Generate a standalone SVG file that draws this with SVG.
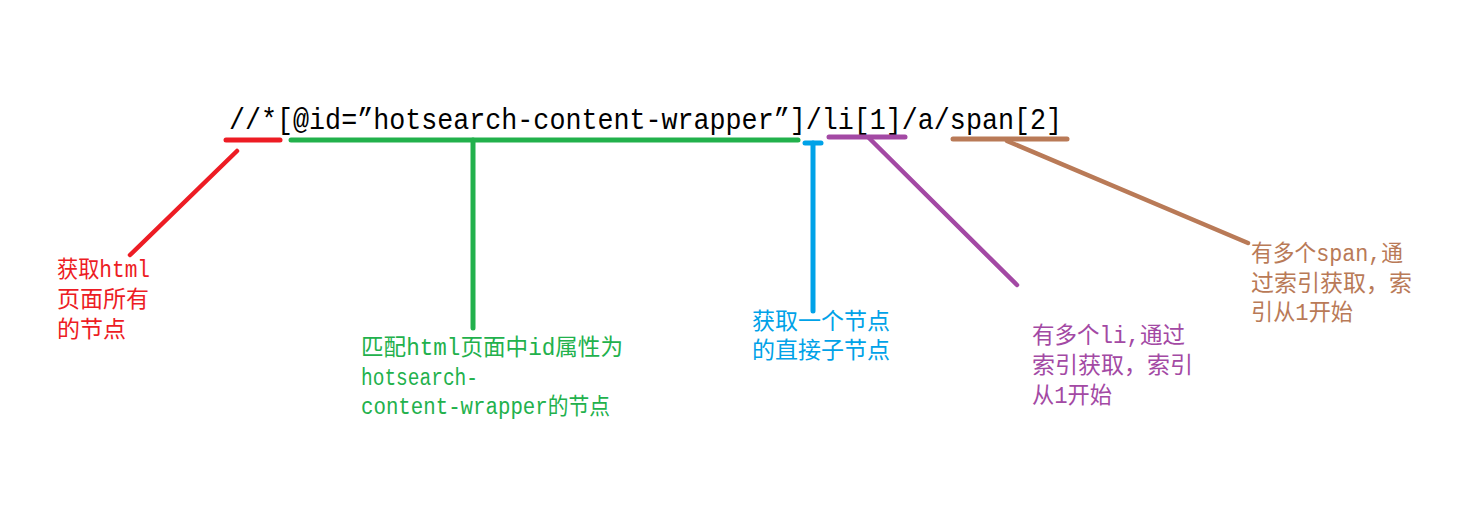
<svg xmlns="http://www.w3.org/2000/svg" width="1471" height="517" viewBox="0 0 1471 517">
<style>
.main{font-family:"Liberation Mono","Noto Sans CJK SC",monospace;font-size:29px;fill:#000}
.lbl{font-family:"Liberation Mono","Noto Sans CJK SC",monospace;font-size:23px}
.ln{fill:none;stroke-width:5;stroke-linecap:round}
.dg{stroke-width:4.5}
.red{fill:#ed1c24;stroke:#ed1c24}
.green{fill:#22b14c;stroke:#22b14c}
.blue{fill:#00a2e8;stroke:#00a2e8}
.purple{fill:#a349a4;stroke:#a349a4}
.brown{fill:#b97a57;stroke:#b97a57}
text{stroke:none}
</style>
<rect width="1471" height="517" fill="#fff"/>
<g id="xpath">
<text class="main" x="229" y="129" textLength="833" lengthAdjust="spacingAndGlyphs">//*[@id=”hotsearch-content-wrapper”]/li[1]/a/span[2]</text>
</g>
<g id="connectors">
<line class="ln red" x1="226" y1="140" x2="280" y2="140"/>
<line class="ln dg red" x1="237" y1="151" x2="130" y2="255"/>
<line class="ln green" x1="291" y1="140" x2="798" y2="140"/>
<line class="ln green" x1="473" y1="140" x2="473" y2="328"/>
<line class="ln blue" x1="805" y1="143" x2="821" y2="143" stroke-linecap="butt"/>
<line class="ln blue" x1="813" y1="143" x2="813" y2="311" stroke-linecap="butt"/>
<line class="ln purple" x1="829" y1="137" x2="905" y2="137"/>
<line class="ln dg purple" x1="869" y1="138" x2="1017" y2="285"/>
<line class="ln brown" x1="953" y1="139" x2="1067" y2="139"/>
<line class="ln dg brown" x1="1007" y1="141" x2="1248" y2="243"/>
</g>
<g id="label-all" class="red">
<text class="lbl" x="57" y="277" textLength="93" lengthAdjust="spacingAndGlyphs">获取html</text>
<text class="lbl" x="57" y="307">页面所有</text>
<text class="lbl" x="57" y="337">的节点</text>
</g>
<g id="label-id" class="green">
<text class="lbl" x="361" y="355" textLength="262" lengthAdjust="spacingAndGlyphs">匹配html页面中id属性为</text>
<text class="lbl" x="361" y="385" textLength="117" lengthAdjust="spacingAndGlyphs">hotsearch-</text>
<text class="lbl" x="361" y="414" textLength="249" lengthAdjust="spacingAndGlyphs">content-wrapper的节点</text>
</g>
<g id="label-child" class="blue">
<text class="lbl" x="752" y="329">获取一个节点</text>
<text class="lbl" x="752" y="358">的直接子节点</text>
</g>
<g id="label-li" class="purple">
<text class="lbl" x="1032" y="343" textLength="153" lengthAdjust="spacingAndGlyphs">有多个li,通过</text>
<text class="lbl" x="1032" y="373">索引获取，索引</text>
<text class="lbl" x="1032" y="403" textLength="80" lengthAdjust="spacingAndGlyphs">从1开始</text>
</g>
<g id="label-span" class="brown">
<text class="lbl" x="1251" y="261" textLength="152" lengthAdjust="spacingAndGlyphs">有多个span,通</text>
<text class="lbl" x="1251" y="291">过索引获取，索</text>
<text class="lbl" x="1251" y="320" textLength="102" lengthAdjust="spacingAndGlyphs">引从1开始</text>
</g>
</svg>
